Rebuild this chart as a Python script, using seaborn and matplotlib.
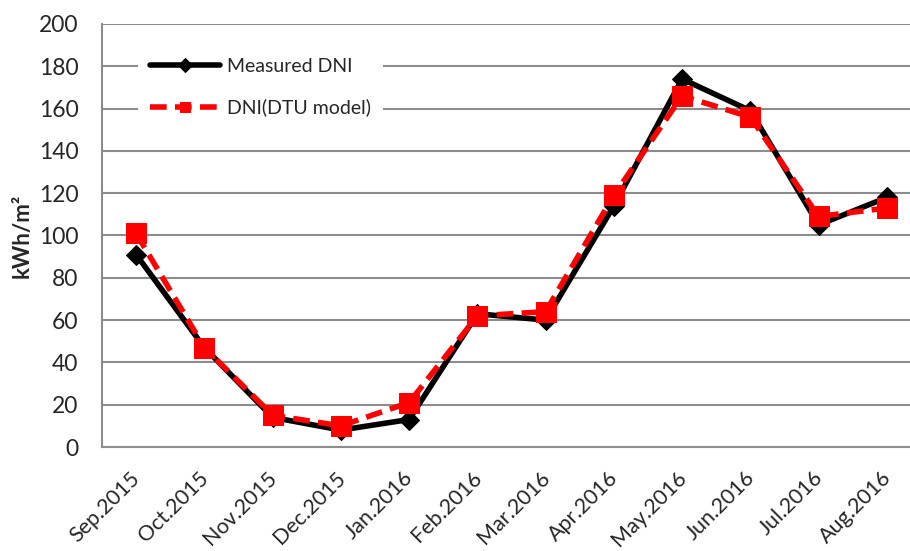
import pandas as pd
import numpy as np
import matplotlib
matplotlib.use("Agg")
import matplotlib.pyplot as plt
import seaborn as sns

# --- DATA ---
months = ["Sep.2015", "Oct.2015", "Nov.2015", "Dec.2015", "Jan.2016", "Feb.2016",
          "Mar.2016", "Apr.2016", "May.2016", "Jun.2016", "Jul.2016", "Aug.2016"]
measured_dni = [91, 47, 14, 8, 13, 63, 60, 114, 174, 159, 105, 118]
dtu_dni = [101, 47, 15, 10, 21, 62, 64, 119, 166, 156, 109, 113]

df = pd.DataFrame({"idx": np.arange(len(months)), "month": months,
                   "Measured DNI": measured_dni, "DNI(DTU model)": dtu_dni})

sns.set_style("white")
plt.rcParams['font.family'] = ['Lato', 'DejaVu Sans']

fig = plt.figure(figsize=(9.10, 5.51), dpi=100)
ax = fig.add_axes([102 / 910, 104 / 551, 819 / 910, 423 / 551])

grid_col = "#8c8c8c"

sns.lineplot(data=df, x="idx", y="Measured DNI", ax=ax, color="black", linewidth=4,
             marker="D", markersize=10, markeredgecolor="black", sort=False,
             label="Measured DNI", zorder=3)
sns.lineplot(data=df, x="idx", y="DNI(DTU model)", ax=ax, color="#ff0000", linewidth=4,
             linestyle=(0, (3, 1.5)), marker="s", markersize=15, markeredgecolor="#ff0000",
             sort=False, label="DNI(DTU model)", zorder=4)

ax.set_xlim(-0.5, len(months) - 0.5)
ax.set_ylim(0, 200)
ax.set_yticks(range(0, 201, 20))
ax.yaxis.grid(True, color=grid_col, linewidth=1.5)
ax.set_axisbelow(True)

# category labels at centres, tick marks between categories
ax.set_xticks(np.arange(len(months)))
ax.set_xticklabels(months, rotation=45, ha="right", rotation_mode="anchor", fontsize=15.5)
ax.set_xticks(np.arange(-0.5, len(months), 1.0), minor=True)
ax.tick_params(axis="x", which="major", length=0, pad=15)
ax.tick_params(axis="x", which="minor", length=5, width=1.5, color=grid_col)
ax.tick_params(axis="y", length=5, width=1.5, color=grid_col, labelsize=16.5, pad=12)
for lab in ax.get_xticklabels():
    lab.set_transform(lab.get_transform() + matplotlib.transforms.ScaledTranslation(-6 / 100, 0, fig.dpi_scale_trans))

for s in ["top", "right"]:
    ax.spines[s].set_visible(False)
for s in ["left", "bottom"]:
    ax.spines[s].set_color(grid_col)
    ax.spines[s].set_linewidth(1.5)

ax.set_xlabel("")
ax.set_ylabel("kWh/m²", fontsize=16, fontweight="bold", labelpad=4)

leg = ax.legend(loc="upper left", bbox_to_anchor=(0.032, 0.97), frameon=True, fontsize=14,
                handlelength=3.6, labelspacing=1.2, borderpad=0.6, handletextpad=0.4)
leg.get_frame().set_facecolor("white")
leg.get_frame().set_edgecolor("none")
leg.get_frame().set_alpha(1.0)
for h in leg.legend_handles:
    h.set_markersize(7)

fig.savefig("out.png", dpi=100)
